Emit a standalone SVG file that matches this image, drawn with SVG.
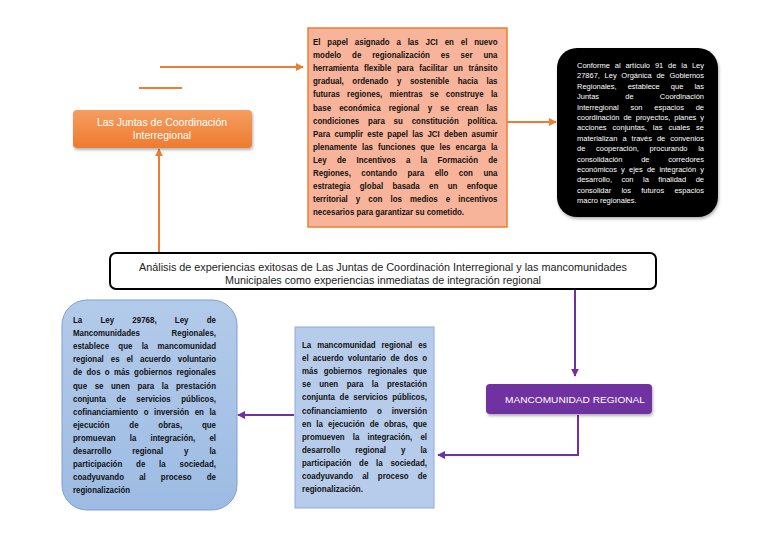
<svg xmlns="http://www.w3.org/2000/svg" width="768" height="543" viewBox="0 0 768 543">
<style>
.b{font-family:"Liberation Sans",Arial,sans-serif;font-weight:bold;font-size:9px;fill:#111}
.w{font-family:"Liberation Sans",Arial,sans-serif;font-size:7.5px;fill:#fff}
.m{font-family:"Liberation Sans",Arial,sans-serif;font-size:10px;fill:#222}
.lbl{font-family:"Liberation Sans",Arial,sans-serif;fill:#fff}
.c{text-anchor:middle}
.og{stroke:#ED7D31;stroke-width:2;fill:none}
.pu{stroke:#7030A0;stroke-width:2;fill:none}
</style>
<defs>
<marker id="ao" viewBox="0 0 10 10" refX="9" refY="5" markerWidth="4" markerHeight="4" orient="auto" markerUnits="strokeWidth"><path d="M0,0L10,5L0,10z" fill="#ED7D31"/></marker>
<marker id="ap" viewBox="0 0 10 10" refX="9" refY="5" markerWidth="4" markerHeight="4" orient="auto" markerUnits="strokeWidth"><path d="M0,0L10,5L0,10z" fill="#7030A0"/></marker>
<linearGradient id="gO" x1="0" y1="0" x2="0" y2="1"><stop offset="0" stop-color="#F59D62"/><stop offset="1" stop-color="#EE7B2F"/></linearGradient>
<linearGradient id="gB" x1="0" y1="0" x2="0" y2="1"><stop offset="0" stop-color="#B3CBEA"/><stop offset="1" stop-color="#9DBBE3"/></linearGradient>
<filter id="sh" x="-10%" y="-10%" width="130%" height="130%"><feDropShadow dx="1" dy="2" stdDeviation="1.5" flood-color="#000" flood-opacity="0.3"/></filter>
</defs>
<rect width="768" height="543" fill="#fff"/>

<g id="connectors">
<line class="og" x1="160" y1="67" x2="303" y2="67" marker-end="url(#ao)"/>
<line class="og" x1="139" y1="88" x2="182" y2="88"/>
<line class="og" x1="159" y1="253" x2="159" y2="149" marker-end="url(#ao)"/>
<line class="og" x1="507" y1="122" x2="556" y2="122" marker-end="url(#ao)"/>
<line class="pu" x1="575" y1="290" x2="575" y2="376" marker-end="url(#ap)"/>
<polyline class="pu" points="578,415 578,455 438,455" marker-end="url(#ap)"/>
<line class="pu" x1="294" y1="415" x2="238" y2="415" marker-end="url(#ap)"/>
</g>

<g id="juntas">
<rect x="73" y="110" width="179" height="38" rx="4" fill="url(#gO)" filter="url(#sh)"/>
<text class="lbl c" font-size="10.5" x="162" y="126">Las Juntas de Coordinación</text>
<text class="lbl c" font-size="10.5" x="162" y="139">Interregional</text>
</g>

<g id="papel">
<rect x="308" y="28" width="199" height="199" fill="#F7B49A" stroke="#ED7D31" stroke-width="1.5"/>
<text class="b" x="313" y="45" word-spacing="5.3" textLength="184.5" lengthAdjust="spacingAndGlyphs">El papel asignado a las JCI en el nuevo</text>
<text class="b" x="313" y="58.1" word-spacing="9.9" textLength="184.5" lengthAdjust="spacingAndGlyphs">modelo de regionalización es ser una</text>
<text class="b" x="313" y="71.2" word-spacing="3.9" textLength="184.5" lengthAdjust="spacingAndGlyphs">herramienta flexible para facilitar un tránsito</text>
<text class="b" x="313" y="84.3" word-spacing="7.2" textLength="184.5" lengthAdjust="spacingAndGlyphs">gradual, ordenado y sostenible hacia las</text>
<text class="b" x="313" y="97.4" word-spacing="5.7" textLength="184.5" lengthAdjust="spacingAndGlyphs">futuras regiones, mientras se construye la</text>
<text class="b" x="313" y="110.5" word-spacing="6.8" textLength="184.5" lengthAdjust="spacingAndGlyphs">base económica regional y se crean las</text>
<text class="b" x="313" y="123.6" word-spacing="7.5" textLength="184.5" lengthAdjust="spacingAndGlyphs">condiciones para su constitución política.</text>
<text class="b" x="313" y="136.7" word-spacing="2.3" textLength="184.5" lengthAdjust="spacingAndGlyphs">Para cumplir este papel las JCI deben asumir</text>
<text class="b" x="313" y="149.8" word-spacing="3.2" textLength="184.5" lengthAdjust="spacingAndGlyphs">plenamente las funciones que les encarga la</text>
<text class="b" x="313" y="162.9" word-spacing="9.2" textLength="184.5" lengthAdjust="spacingAndGlyphs">Ley de Incentivos a la Formación de</text>
<text class="b" x="313" y="176" word-spacing="9.4" textLength="184.5" lengthAdjust="spacingAndGlyphs">Regiones, contando para ello con una</text>
<text class="b" x="313" y="189.1" word-spacing="8.1" textLength="184.5" lengthAdjust="spacingAndGlyphs">estrategia global basada en un enfoque</text>
<text class="b" x="313" y="202.2" word-spacing="6.7" textLength="184.5" lengthAdjust="spacingAndGlyphs">territorial y con los medios e incentivos</text>
<text class="b" x="313" y="215.3" textLength="151" lengthAdjust="spacingAndGlyphs">necesarios para garantizar su cometido.</text>
</g>

<g id="conforme">
<rect x="557" y="48" width="161" height="169" rx="20" fill="#000" filter="url(#sh)"/>
<text class="w" x="577" y="68" word-spacing="2.75" textLength="127" lengthAdjust="spacing">Conforme al artículo 91 de la Ley</text>
<text class="w" x="577" y="78.4" word-spacing="2.6" textLength="127" lengthAdjust="spacing">27867, Ley Orgánica de Gobiernos</text>
<text class="w" x="577" y="88.8" word-spacing="9" textLength="127" lengthAdjust="spacing">Regionales, establece que las</text>
<text class="w" x="577" y="99.2" word-spacing="24.1" textLength="127" lengthAdjust="spacing">Juntas de Coordinación</text>
<text class="w" x="577" y="109.6" word-spacing="9.7" textLength="127" lengthAdjust="spacing">Interregional son espacios de</text>
<text class="w" x="577" y="120" word-spacing="1.85" textLength="127" lengthAdjust="spacing">coordinación de proyectos, planes y</text>
<text class="w" x="577" y="130.4" word-spacing="3.9" textLength="127" lengthAdjust="spacing">acciones conjuntas, las cuales se</text>
<text class="w" x="577" y="140.8" word-spacing="2.9" textLength="127" lengthAdjust="spacing">materializan a través de convenios</text>
<text class="w" x="577" y="151.2" word-spacing="8.6" textLength="127" lengthAdjust="spacing">de cooperación, procurando la</text>
<text class="w" x="577" y="161.6" word-spacing="16.6" textLength="127" lengthAdjust="spacing">consolidación de corredores</text>
<text class="w" x="577" y="172" word-spacing="2.1" textLength="127" lengthAdjust="spacing">económicos y ejes de integración y</text>
<text class="w" x="577" y="182.4" word-spacing="7.4" textLength="127" lengthAdjust="spacing">desarrollo, con la finalidad de</text>
<text class="w" x="577" y="192.8" word-spacing="8.2" textLength="127" lengthAdjust="spacing">consolidar los futuros espacios</text>
<text class="w" x="577" y="203.2">macro regionales.</text>
</g>

<g id="analisis">
<rect x="110" y="253" width="546" height="36" rx="6" fill="#fff" stroke="#000" stroke-width="2"/>
<text class="m c" x="383" y="271" textLength="488" lengthAdjust="spacingAndGlyphs">Análisis de experiencias exitosas de Las Juntas de Coordinación Interregional y las mancomunidades</text>
<text class="m c" x="383" y="284" textLength="316" lengthAdjust="spacingAndGlyphs">Municipales como experiencias inmediatas de integración regional</text>
</g>

<g id="mancomunidad">
<rect x="486" y="384" width="166" height="30" rx="4" fill="#7030A0" filter="url(#sh)"/>
<text class="lbl c" font-size="9.5" x="575" y="402.5" textLength="140" lengthAdjust="spacingAndGlyphs">MANCOMUNIDAD REGIONAL</text>
</g>

<g id="definicion">
<rect x="295" y="327" width="139" height="181" fill="#B7CCEA" stroke="#8EAADB" stroke-width="1"/>
<text class="b" x="302" y="348" word-spacing="4.2" textLength="125" lengthAdjust="spacingAndGlyphs">La mancomunidad regional es</text>
<text class="b" x="302" y="361.1" word-spacing="2.3" textLength="125" lengthAdjust="spacingAndGlyphs">el acuerdo voluntario de dos o</text>
<text class="b" x="302" y="374.2" word-spacing="4.2" textLength="125" lengthAdjust="spacingAndGlyphs">más gobiernos regionales que</text>
<text class="b" x="302" y="387.3" word-spacing="7.1" textLength="125" lengthAdjust="spacingAndGlyphs">se unen para la prestación</text>
<text class="b" x="302" y="400.4" word-spacing="2.7" textLength="125" lengthAdjust="spacingAndGlyphs">conjunta de servicios públicos,</text>
<text class="b" x="302" y="413.5" word-spacing="8.7" textLength="125" lengthAdjust="spacingAndGlyphs">cofinanciamiento o inversión</text>
<text class="b" x="302" y="426.6" word-spacing="3.3" textLength="125" lengthAdjust="spacingAndGlyphs">en la ejecución de obras, que</text>
<text class="b" x="302" y="439.7" word-spacing="6.7" textLength="125" lengthAdjust="spacingAndGlyphs">promueven la integración, el</text>
<text class="b" x="302" y="452.8" word-spacing="14.5" textLength="125" lengthAdjust="spacingAndGlyphs">desarrollo regional y la</text>
<text class="b" x="302" y="465.9" word-spacing="6.3" textLength="125" lengthAdjust="spacingAndGlyphs">participación de la sociedad,</text>
<text class="b" x="302" y="479" word-spacing="7.8" textLength="125" lengthAdjust="spacingAndGlyphs">coadyuvando al proceso de</text>
<text class="b" x="302" y="492.1" textLength="61" lengthAdjust="spacingAndGlyphs">regionalización.</text>
</g>

<g id="ley">
<rect x="62" y="300" width="175" height="210" rx="25" fill="url(#gB)" stroke="#7F9FD0" stroke-width="1"/>
<text class="b" x="73" y="323" word-spacing="18.2" textLength="143" lengthAdjust="spacingAndGlyphs">La Ley 29768, Ley de</text>
<text class="b" x="73" y="336.1" word-spacing="33.5" textLength="143" lengthAdjust="spacingAndGlyphs">Mancomunidades Regionales,</text>
<text class="b" x="73" y="349.2" word-spacing="8" textLength="143" lengthAdjust="spacingAndGlyphs">establece que la mancomunidad</text>
<text class="b" x="73" y="362.3" word-spacing="5.4" textLength="143" lengthAdjust="spacingAndGlyphs">regional es el acuerdo voluntario</text>
<text class="b" x="73" y="375.4" word-spacing="2.4" textLength="143" lengthAdjust="spacingAndGlyphs">de dos o más gobiernos regionales</text>
<text class="b" x="73" y="388.5" word-spacing="6.1" textLength="143" lengthAdjust="spacingAndGlyphs">que se unen para la prestación</text>
<text class="b" x="73" y="401.6" word-spacing="9.5" textLength="143" lengthAdjust="spacingAndGlyphs">conjunta de servicios públicos,</text>
<text class="b" x="73" y="414.7" word-spacing="3.7" textLength="143" lengthAdjust="spacingAndGlyphs">cofinanciamiento o inversión en la</text>
<text class="b" x="73" y="427.8" word-spacing="20" textLength="143" lengthAdjust="spacingAndGlyphs">ejecución de obras, que</text>
<text class="b" x="73" y="440.9" word-spacing="13.5" textLength="143" lengthAdjust="spacingAndGlyphs">promuevan la integración, el</text>
<text class="b" x="73" y="454" word-spacing="21.3" textLength="143" lengthAdjust="spacingAndGlyphs">desarrollo regional y la</text>
<text class="b" x="73" y="467.1" word-spacing="13.2" textLength="143" lengthAdjust="spacingAndGlyphs">participación de la sociedad,</text>
<text class="b" x="73" y="480.2" word-spacing="14.7" textLength="143" lengthAdjust="spacingAndGlyphs">coadyuvando al proceso de</text>
<text class="b" x="73" y="493.3" textLength="57" lengthAdjust="spacingAndGlyphs">regionalización</text>
</g>
</svg>
